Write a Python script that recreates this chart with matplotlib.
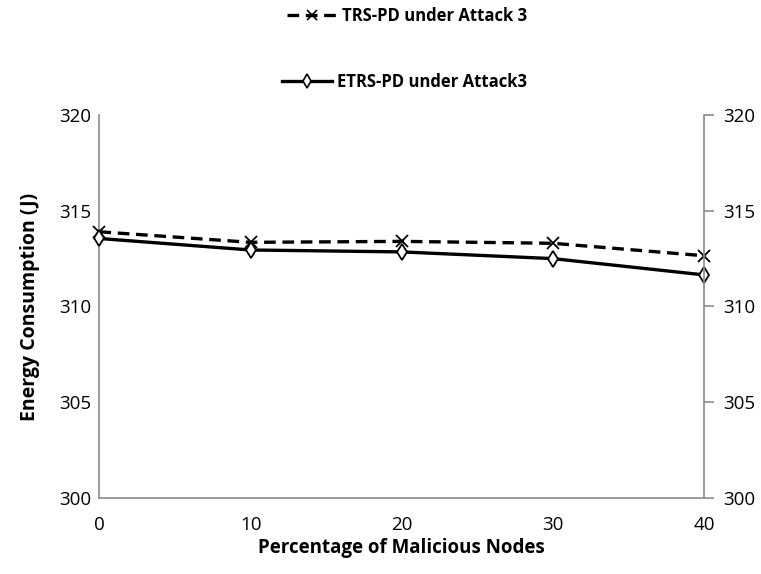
import matplotlib
matplotlib.use("Agg")
import matplotlib.pyplot as plt
from matplotlib.lines import Line2D

# Data
malicious_pct = [0, 10, 20, 30, 40]
trs_pd = [313.9, 313.35, 313.4, 313.3, 312.65]
etrs_pd = [313.55, 312.95, 312.85, 312.5, 311.65]
y_ticks = [300, 305, 310, 315, 320]
series_names = ["TRS-PD under Attack 3", "ETRS-PD under Attack3"]

plt.rcParams['font.family'] = ['Open Sans', 'DejaVu Sans']

fig = plt.figure(figsize=(7.61, 5.74), dpi=100)
ax = fig.add_axes([0.1307, 0.1324, 0.7944, 0.6673])

axis_color = "#8a8a8a"
dash = (0, (3.5, 2))

ax.plot(malicious_pct, trs_pd, color="black", linestyle=dash, linewidth=2.4,
        marker="x", markersize=9, markeredgewidth=1.3, clip_on=False, zorder=3)
ax.plot(malicious_pct, etrs_pd, color="black", linestyle="-", linewidth=2.4,
        marker="d", markersize=8.5, markerfacecolor="white", markeredgecolor="black",
        markeredgewidth=1.3, clip_on=False, zorder=4)

ax.set_xlim(0, 40)
ax.set_ylim(300, 320)
ax.set_yticks(y_ticks)
ax.set_xticks(malicious_pct)
ax.tick_params(axis="both", length=0, labelsize=13.5, colors="black")
ax.tick_params(axis="x", pad=13)
ax.tick_params(axis="y", pad=6)

for side in ["top", "right"]:
    ax.spines[side].set_visible(False)
for side in ["left", "bottom"]:
    ax.spines[side].set_color(axis_color)
    ax.spines[side].set_linewidth(1.2)

ax.set_xlabel("Percentage of Malicious Nodes", fontsize=13.5, fontweight="bold", labelpad=3)
ax.set_ylabel("Energy Consumption (J)", fontsize=14, fontweight="bold", labelpad=14)

# Secondary axis on the right with the same scale
ax2 = ax.twinx()
ax2.set_ylim(300, 320)
ax2.set_yticks(y_ticks)
ax2.tick_params(axis="y", direction="out", length=7, width=1.2, color=axis_color,
                labelsize=13.5, pad=7)
for side in ["top", "left", "bottom"]:
    ax2.spines[side].set_visible(False)
ax2.spines["right"].set_color(axis_color)
ax2.spines["right"].set_linewidth(1.2)

# Legend entries stacked above the plot
h1 = Line2D([], [], color="black", linestyle=dash, linewidth=2.4,
            marker="x", markersize=7, markeredgewidth=1.2)
h2 = Line2D([], [], color="black", linestyle="-", linewidth=2.4, marker="d",
            markersize=7, markerfacecolor="white", markeredgewidth=1.2)
leg_font = {"size": 12, "weight": "bold"}
fig.legend([h1], [series_names[0]], loc="center", bbox_to_anchor=(0.535, 0.972),
           frameon=False, prop=leg_font, handlelength=3.0, handletextpad=0.3)
fig.legend([h2], [series_names[1]], loc="center", bbox_to_anchor=(0.532, 0.858),
           frameon=False, prop=leg_font, handlelength=3.0, handletextpad=0.3)

fig.savefig("out.png", dpi=100)
